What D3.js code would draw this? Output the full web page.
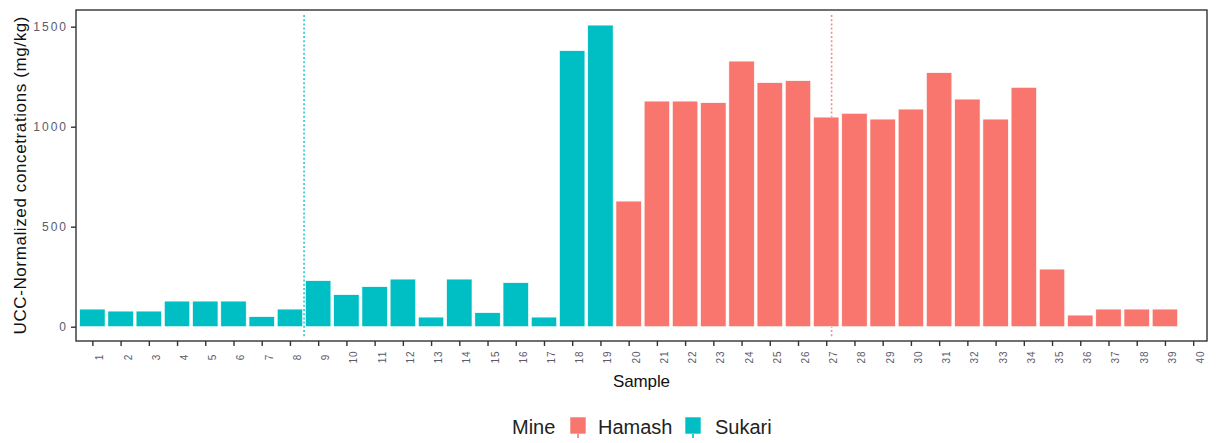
<!DOCTYPE html>
<html>
<head>
<meta charset="utf-8">
<script src="https://cdn.jsdelivr.net/npm/d3@7/dist/d3.min.js"></script>
<style>
  html, body { margin: 0; padding: 0; background: #fff; }
  svg { display: block; font-family: "Liberation Sans", Arial, sans-serif; }
</style>
</head>
<body>
<svg id="chart" width="1216" height="443"></svg>
<script>
// ---- data ----
const samples = d3.range(1, 40);
const values = [88, 78, 78, 128, 128, 128, 50, 88, 230, 160, 200, 238, 48, 238, 70, 220, 48, 1380, 1508,
                628, 1128, 1128, 1120, 1328, 1220, 1230, 1048, 1067, 1038, 1088, 1270, 1138, 1038, 1197, 288, 58, 88, 88, 88];
const mines = samples.map(s => s <= 19 ? "Sukari" : "Hamash");
const xTicks = d3.range(1, 41);
const yTicks = [0, 500, 1000, 1500];
const mineLevels = ["Hamash", "Sukari"];
const mineColors = ["#F8766D", "#00BFC4"];
const vlineX = [8.5, 27.19];
const vlineMine = ["Sukari", "Hamash"];

// ---- layout ----
const svg = d3.select("#chart");
const P = { l: 76, r: 1207, t: 10, b: 341 };
const x = d3.scaleLinear().domain([0.42, 40.49]).range([P.l, P.r]);
const y = d3.scaleLinear().domain([-71.5, 1583.5]).range([P.b, P.t]);
const color = d3.scaleOrdinal().domain(mineLevels).range(mineColors);

// vertical dotted lines (beneath bars)
svg.append("g").selectAll("line").data(vlineX).join("line")
  .attr("x1", d => x(d)).attr("x2", d => x(d))
  .attr("y1", 15).attr("y2", 337)
  .attr("stroke", (d, i) => color(vlineMine[i]))
  .attr("stroke-width", 1.6)
  .attr("stroke-dasharray", "2,2.2")
  .attr("opacity", 0.85);

// bars
const data = samples.map((s, i) => ({ s, v: values[i], m: mines[i] }));
svg.append("g").selectAll("rect").data(data).join("rect")
  .attr("x", d => x(d.s - 0.45))
  .attr("width", d => x(d.s + 0.45) - x(d.s - 0.45))
  .attr("y", d => y(d.v))
  .attr("height", d => y(0) - y(d.v))
  .attr("fill", d => color(d.m))
  .attr("stroke", "#fff")
  .attr("stroke-width", 0.6);

// panel border
svg.append("rect")
  .attr("x", P.l).attr("y", P.t)
  .attr("width", P.r - P.l).attr("height", P.b - P.t)
  .attr("fill", "none").attr("stroke", "#333").attr("stroke-width", 1.4);

// y axis
const yAxis = svg.append("g").attr("transform", `translate(${P.l},0)`)
  .call(d3.axisLeft(y).tickValues(yTicks).tickSize(5).tickPadding(5).tickFormat(d3.format("d")));
yAxis.select(".domain").remove();
yAxis.selectAll(".tick line").attr("stroke", "#333").attr("stroke-width", 1.4);
yAxis.selectAll(".tick text")
  .attr("fill", "#5a5a6a").attr("font-size", 12).attr("letter-spacing", 2)
  .attr("dx", 2)
  .style("font-family", "'Liberation Sans', Arial, sans-serif");

// x axis
const xAxis = svg.append("g").attr("transform", `translate(0,${P.b})`)
  .call(d3.axisBottom(x).tickValues(xTicks).tickSize(5).tickFormat(d3.format("d")));
xAxis.select(".domain").remove();
xAxis.selectAll(".tick line").attr("stroke", "#333").attr("stroke-width", 1.4);
xAxis.selectAll(".tick text")
  .attr("fill", "#5a5a6a").attr("font-size", 10).attr("letter-spacing", 1)
  .attr("y", 0).attr("dy", null)
  .attr("text-anchor", "middle")
  .attr("dominant-baseline", "central")
  .attr("transform", "translate(7,16) rotate(-90)")
  .style("font-family", "'Liberation Sans', Arial, sans-serif");

// axis titles
svg.append("text")
  .attr("x", (P.l + P.r) / 2).attr("y", 381)
  .attr("text-anchor", "middle").attr("dominant-baseline", "central")
  .attr("font-size", 17).attr("fill", "#111")
  .attr("textLength", 57).attr("lengthAdjust", "spacing")
  .text("Sample");

svg.append("text")
  .attr("transform", `translate(20,${(P.t + P.b) / 2}) rotate(-90)`)
  .attr("text-anchor", "middle").attr("dominant-baseline", "central")
  .attr("font-size", 17).attr("fill", "#111")
  .attr("textLength", 318).attr("lengthAdjust", "spacing")
  .text("UCC-Normalized concetrations (mg/kg)");

// legend
const lg = svg.append("g");
lg.append("text").attr("x", 512).attr("y", 427)
  .attr("dominant-baseline", "central").attr("font-size", 20).attr("fill", "#222")
  .text("Mine");
const keyX = [570, 685];
const labX = [598, 715];
mineLevels.forEach((m, i) => {
  lg.append("rect").attr("x", keyX[i]).attr("y", 417).attr("width", 16).attr("height", 17)
    .attr("fill", color(m)).attr("stroke", "#fff").attr("stroke-width", 0.6);
  lg.append("line").attr("x1", keyX[i] + 8).attr("x2", keyX[i] + 8)
    .attr("y1", 434).attr("y2", 438)
    .attr("stroke", color(m)).attr("stroke-width", 1.6);
  lg.append("text").attr("x", labX[i]).attr("y", 427)
    .attr("dominant-baseline", "central").attr("font-size", 20).attr("fill", "#222")
    .text(m);
});
</script>
</body>
</html>
